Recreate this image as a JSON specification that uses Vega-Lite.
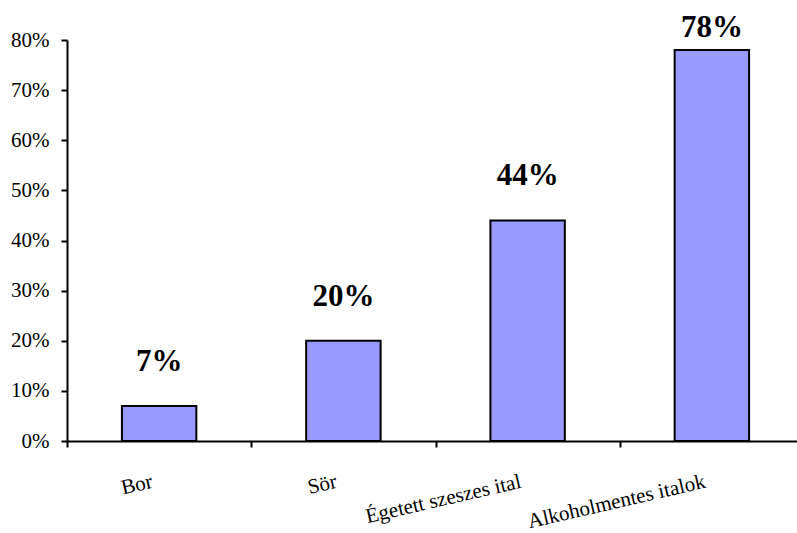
{
  "$schema": "https://vega.github.io/schema/vega-lite/v6.json",
  "autosize": {"type": "none"},
  "padding": {"left": 67, "top": 40, "right": 0, "bottom": 92},
  "width": 730,
  "height": 401,
  "background": "white",
  "config": {
    "view": {"stroke": null},
    "font": "Liberation Serif",
    "axis": {
      "domainColor": "black",
      "domainWidth": 2,
      "tickColor": "black",
      "tickWidth": 2,
      "tickSize": 6,
      "labelFont": "Liberation Serif",
      "labelFontSize": 21,
      "labelColor": "black",
      "labelLimit": 0,
      "grid": false,
      "title": null
    }
  },
  "data": {
    "values": [
      {"ital": "Bor", "arany": 0.07},
      {"ital": "Sör", "arany": 0.20},
      {"ital": "Égetett szeszes ital", "arany": 0.44},
      {"ital": "Alkoholmentes italok", "arany": 0.78}
    ]
  },
  "encoding": {
    "x": {
      "field": "ital",
      "type": "nominal",
      "sort": null,
      "scale": {"paddingInner": 0, "paddingOuter": 0, "range": [0, 737]},
      "axis": {
        "tickBand": "extent",
        "labelAngle": -13,
        "labelAlign": "right",
        "labelBaseline": "alphabetic",
        "labelPadding": 40,
        "labelOffset": -6,
        "labelLimit": 0
      }
    },
    "y": {
      "field": "arany",
      "type": "quantitative",
      "scale": {"domain": [0, 0.8], "nice": false},
      "axis": {
        "format": ".0%",
        "values": [0, 0.1, 0.2, 0.3, 0.4, 0.5, 0.6, 0.7, 0.8],
        "labelPadding": 12
      }
    }
  },
  "layer": [
    {
      "mark": {
        "type": "bar",
        "width": {"band": 0.404},
        "fill": "#9999FF",
        "stroke": "black",
        "strokeWidth": 2
      }
    },
    {
      "mark": {
        "type": "text",
        "font": "Liberation Serif",
        "fontSize": 31,
        "fontWeight": "bold",
        "color": "black",
        "baseline": "alphabetic",
        "align": "center",
        "dy": {"expr": "datum.arany > 0.7 ? -13 : -35"}
      },
      "encoding": {
        "text": {"field": "arany", "type": "quantitative", "format": ".0%"}
      }
    }
  ]
}
